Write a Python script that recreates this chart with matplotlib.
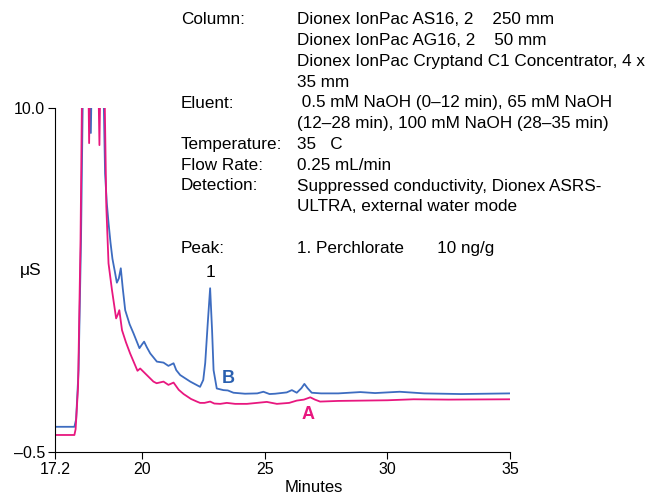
import matplotlib
matplotlib.use("Agg")
from matplotlib import pyplot as plt

plt.rcParams['font.family'] = ['Liberation Sans', 'DejaVu Sans']

# trace B (blue), minutes / uS
blue_t = [16.46, 17.25, 17.32, 17.42, 17.52, 17.62, 17.86, 17.92, 17.98, 18.40,
          18.5, 18.57, 18.64, 18.72, 18.8, 18.9, 18.98, 19.06, 19.14, 19.22,
          19.32, 19.5, 19.66, 19.9, 20.0, 20.09, 20.2, 20.34, 20.61, 20.88,
          21.08, 21.29, 21.4, 21.56, 21.97, 22.37, 22.5, 22.58, 22.68, 22.78,
          22.86, 22.92, 23.05, 23.32, 23.5, 23.73, 24.2, 24.7, 24.95, 25.2,
          25.43, 25.9, 26.11, 26.31, 26.5, 26.62, 26.75, 26.92, 27.3, 28.0,
          28.9, 29.5, 30.5, 31.5, 33.0, 35.0]
blue_v = [0.27, 0.27, 0.5, 2.0, 6.0, 12.0, 12.0, 9.24, 12.0, 12.0,
          8.0, 7.1, 6.5, 5.9, 5.4, 5.0, 4.67, 4.8, 5.11, 4.5,
          3.83, 3.4, 3.12, 2.67, 2.78, 2.87, 2.7, 2.51, 2.26, 2.23,
          2.13, 2.21, 2.0, 1.85, 1.65, 1.49, 1.7, 2.22, 3.4, 4.5,
          3.2, 2.0, 1.44, 1.39, 1.38, 1.31, 1.28, 1.29, 1.34, 1.27,
          1.28, 1.32, 1.39, 1.31, 1.45, 1.58, 1.45, 1.31, 1.29, 1.29,
          1.33, 1.30, 1.34, 1.29, 1.27, 1.29]

# trace A (pink)
pink_t = [16.46, 17.25, 17.3, 17.4, 17.5, 17.58, 17.8, 17.85, 17.9, 18.2,
          18.27, 18.33, 18.45, 18.55, 18.64, 18.78, 18.95, 19.02, 19.08, 19.19,
          19.35, 19.52, 19.82, 19.93, 20.2, 20.47, 20.6, 20.88, 21.08, 21.29,
          21.5, 21.7, 22.0, 22.24, 22.37, 22.55, 22.78, 22.95, 23.19, 23.46,
          23.8, 24.28, 25.09, 25.5, 26.0, 26.31, 26.6, 26.86, 27.05, 27.26,
          28.0, 29.0, 30.0, 31.07, 32.5, 35.0]
pink_v = [0.02, 0.02, 0.2, 1.5, 6.0, 12.0, 12.0, 8.93, 12.0, 12.0,
          8.87, 12.0, 12.0, 7.0, 5.26, 4.45, 3.58, 3.7, 3.83, 3.22,
          2.85, 2.51, 1.98, 2.05, 1.85, 1.65, 1.6, 1.65, 1.55, 1.62,
          1.4, 1.27, 1.12, 1.04, 1.0, 1.0, 1.04, 0.98, 0.97, 1.0,
          0.97, 0.97, 1.03, 0.97, 1.0, 1.07, 1.1, 1.17, 1.1, 1.04,
          1.06, 1.07, 1.08, 1.11, 1.10, 1.11]

x_ticks = [16.46, 20, 25, 30, 35]
x_labels = ['17.2', '20', '25', '30', '35']
y_ticks = [-0.5, 10.0]
y_labels = ['\u20130.5', '10.0']

info_keys = ['Column:', '', '', '', 'Eluent:', '', 'Temperature:', 'Flow Rate:',
             'Detection:', '', '', 'Peak:']
info_vals = ['Dionex IonPac AS16, 2    250 mm',
             'Dionex IonPac AG16, 2    50 mm',
             'Dionex IonPac Cryptand C1 Concentrator, 4 x',
             '35 mm',
             ' 0.5 mM NaOH (0\u201312 min), 65 mM NaOH',
             '(12\u201328 min), 100 mM NaOH (28\u201335 min)',
             '35   C',
             '0.25 mL/min',
             'Suppressed conductivity, Dionex ASRS-',
             'ULTRA, external water mode',
             '',
             '1. Perchlorate       10 ng/g']

blue = '#3d6cc0'
pink = '#e8177f'

fig = plt.figure(figsize=(6.51, 4.97), dpi=100)
ax = fig.add_axes([0.0845, 0.0905, 0.699, 0.692])

ax.plot(blue_t, blue_v, color=blue, lw=1.3)
ax.plot(pink_t, pink_v, color=pink, lw=1.3)

ax.set_xlim(16.46, 35)
ax.set_ylim(-0.5, 10.0)
ax.set_xticks(x_ticks)
ax.set_xticklabels(x_labels, fontsize=11.5)
ax.set_yticks(y_ticks)
ax.set_yticklabels(y_labels, fontsize=11.5)
ax.tick_params(direction='out', length=5, width=0.8, pad=2)
for s in ['top', 'right']:
    ax.spines[s].set_visible(False)
for s in ['left', 'bottom']:
    ax.spines[s].set_linewidth(0.8)

fig.text(314 / 651, 1 - 488 / 497, 'Minutes', fontsize=12, ha='center', va='center')
fig.text(20 / 651, 1 - 270 / 497, '\u03bcS', fontsize=12.5, ha='left', va='center')

ax.text(22.78, 4.75, '1', fontsize=12.5, ha='center', va='bottom')
ax.text(23.53, 1.75, 'B', fontsize=13, fontweight='bold', color='#2a60b0',
        ha='center', va='center')
ax.text(26.77, 0.65, 'A', fontsize=13, fontweight='bold', color=pink,
        ha='center', va='center')

y0 = 20
for i, (k, v) in enumerate(zip(info_keys, info_vals)):
    yy = y0 + i * 20.75
    if i == 11:
        yy = 249
    fig.text(181 / 651, 1 - yy / 497, k, fontsize=12.3, ha='left', va='center')
    fig.text(297 / 651, 1 - yy / 497, v, fontsize=12.3, ha='left', va='center')

fig.savefig('out.png', dpi=100)
